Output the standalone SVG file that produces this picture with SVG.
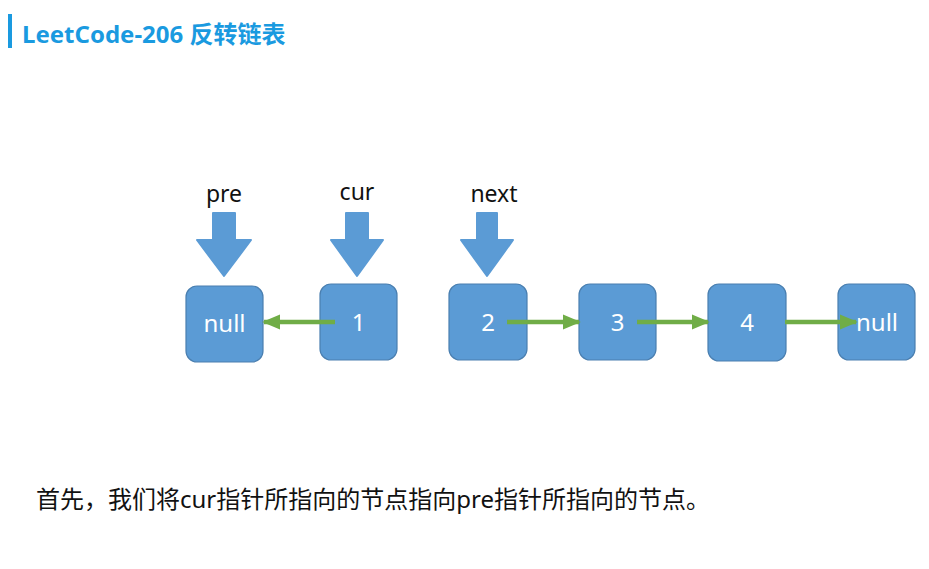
<svg xmlns="http://www.w3.org/2000/svg" width="929" height="569" viewBox="0 0 929 569">
<style>
.node rect{fill:#5b9bd5;stroke:#4a7fb0;stroke-width:1.2}
.node text{fill:#fff;font-family:"Noto Sans","Open Sans",sans-serif;font-size:24px;text-anchor:middle}
.lbl{fill:#111;font-family:"Noto Sans","Open Sans",sans-serif;font-size:23px;text-anchor:middle}
.ptr{fill:#5b9bd5;stroke:#5b9bd5;stroke-width:2;stroke-linejoin:round}
.link{stroke:#70ad47;stroke-width:4.5;fill:none}
</style>
<defs>
<marker id="ah" markerWidth="4" markerHeight="4" refX="3.6" refY="2" orient="auto" markerUnits="strokeWidth">
<path d="M0,0.3 L4,2 L0,3.7 Z" fill="#70ad47"/>
</marker>
</defs>
<rect width="929" height="569" fill="#fff"/>
<g id="title">
<rect x="8" y="14" width="4" height="34" fill="#1a9ae0"/>
<text x="22" y="43" font-family="'Noto Sans','Noto Sans CJK SC',sans-serif" font-size="24" font-weight="bold" fill="#1a9ae0">LeetCode-206 反转链表</text>
</g>
<g id="pointers">
<text class="lbl" x="224" y="202">pre</text>
<path class="ptr" d="M213,213 H235 V240 H251 L224,276 L197,240 H213 Z"/>
<text class="lbl" x="357" y="200">cur</text>
<path class="ptr" d="M346,213 H368 V240 H383 L357,276 L331,240 H346 Z"/>
<text class="lbl" x="494" y="202">next</text>
<path class="ptr" d="M477,213 H497 V240 H513 L487,276 L461,240 H477 Z"/>
</g>
<g id="n-null1" class="node"><rect x="186" y="286" width="77" height="76" rx="11"/><text x="224.5" y="332">null</text></g>
<g id="n1" class="node"><rect x="320" y="284" width="77" height="76" rx="11"/><text x="358.5" y="331">1</text></g>
<g id="n2" class="node"><rect x="449" y="284" width="78" height="76" rx="11"/><text x="488" y="331">2</text></g>
<g id="n3" class="node"><rect x="579" y="284" width="77" height="76" rx="11"/><text x="617.5" y="331">3</text></g>
<g id="n4" class="node"><rect x="708" y="284" width="78" height="77" rx="11"/><text x="747" y="331">4</text></g>
<g id="n-null2" class="node"><rect x="838" y="284" width="77" height="76" rx="11"/><text x="877" y="331">null</text></g>
<g id="connectors">
<line class="link" x1="335" y1="322" x2="264" y2="322" marker-end="url(#ah)"/>
<line class="link" x1="507" y1="322" x2="579" y2="322" marker-end="url(#ah)"/>
<line class="link" x1="637" y1="322" x2="708" y2="322" marker-end="url(#ah)"/>
<line class="link" x1="785" y1="322" x2="856" y2="322" marker-end="url(#ah)"/>
</g>
<text x="36" y="508" font-family="'Noto Sans','Noto Sans CJK SC',sans-serif" font-size="24" fill="#111">首先，我们将cur指针所指向的节点指向pre指针所指向的节点。</text>
</svg>
